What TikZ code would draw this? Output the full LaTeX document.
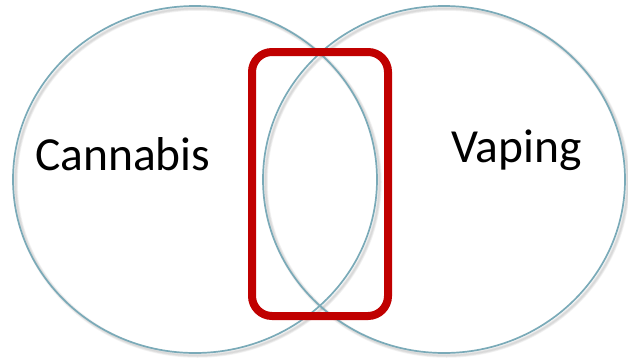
\documentclass[tikz,border=0pt]{standalone}
\usepackage{fontspec}
\setmainfont{Carlito}
\definecolor{ringblue}{HTML}{7AAAB8}
\definecolor{boxred}{HTML}{C00000}
\begin{document}
\begin{tikzpicture}[x=1pt,y=1pt,
  ring/.style={draw=ringblue,line width=1.7pt},
  ringshadow/.style={draw=black,line width=#1,opacity=0.05},
  label/.style={font=\fontsize{47.5}{50}\selectfont,inner sep=0pt,anchor=base west},
  redbox/.style={draw=boxred,line width=8pt,rounded corners=20pt}]
\useasboundingbox (0,0) rectangle (628,357);
\fill[white] (0,0) rectangle (628,357);
% shadows
\foreach \w in {1.5pt,3pt,4.5pt}{
  \draw[ringshadow=\w] (197.5,175) ellipse [x radius=182,y radius=173.5];
  \draw[ringshadow=\w] (446.5,175) ellipse [x radius=181,y radius=173.5];
}
\draw[ring] (195,177.5) ellipse [x radius=182,y radius=173.5];
\draw[ring] (444,177.5) ellipse [x radius=181,y radius=173.5];
\coordinate (bl) at (252,41);
\coordinate (tr) at (388,305);
\draw[redbox] (bl) rectangle (tr);
\node[label] (cannabis) at (35,187) {Cannabis};
\node[label] (vaping) at (451,195) {Vaping};
\end{tikzpicture}
\end{document}
